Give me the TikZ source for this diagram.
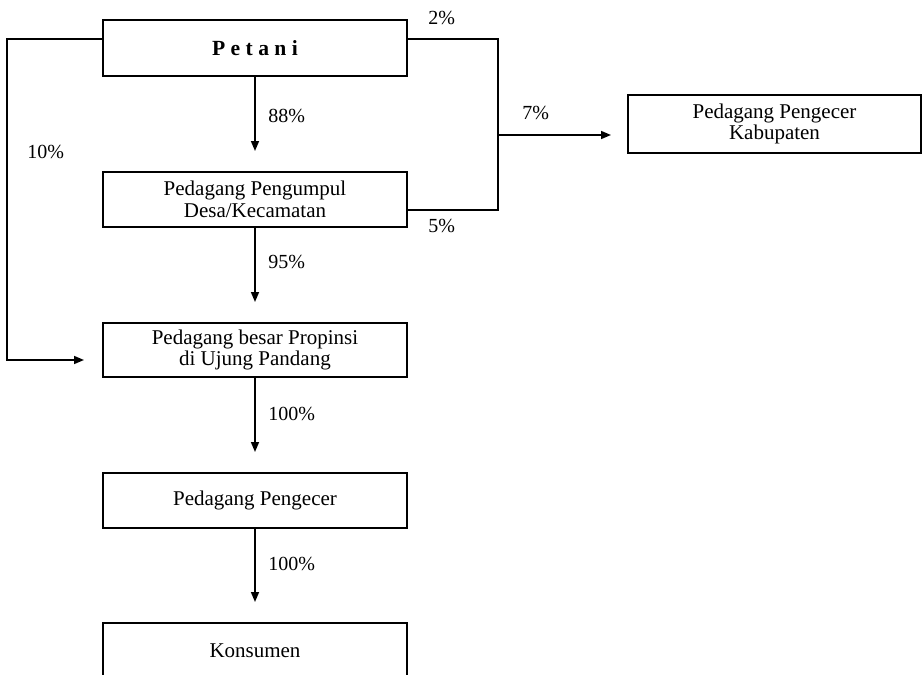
\documentclass[tikz,border=0pt]{standalone}
\usepackage{fontspec}
\setmainfont{Liberation Serif}
\usetikzlibrary{arrows.meta,shapes}

\begin{document}
\begin{tikzpicture}[x=0.5pt,y=-0.5pt]
\tikzstyle{every node}+=[inner sep=0pt]
\tikzstyle{box}=[draw=black,line width=1pt,minimum width=152pt,minimum height=27.5pt,align=center,font=\fontsize{10.5}{10.8}\selectfont]
\tikzstyle{pct}=[anchor=west,font=\fontsize{10}{12}\selectfont]
\tikzstyle{flow}=[black,line width=0.8pt]
\tikzstyle{tip}=[-{Triangle[length=5pt,width=4pt]}]
\useasboundingbox (0,0) rectangle (922,675);
\clip (0,0) rectangle (922,675);
\node [box,minimum height=28pt,font=\fontsize{10.8}{10.8}\selectfont\bfseries] (petani) at (255,48) {P e t a n i};
\node [box] (pengumpul) at (255,199.5) {Pedagang Pengumpul\\Desa/Kecamatan};
\node [box,minimum height=27pt] (besar) at (255,350) {Pedagang besar Propinsi\\di Ujung Pandang};
\node [box] (pengecer) at (255,500.5) {Pedagang Pengecer};
\node [box] (konsumen) at (255,650.5) {Konsumen};
\node [box,minimum width=146.5pt,minimum height=29pt] (kabupaten) at (774.5,124) {Pedagang Pengecer\\Kabupaten};
\coordinate (split) at (498,135);
\draw [flow,tip,shorten >=10pt] (petani) -- (pengumpul);
\draw [flow,tip,shorten >=10pt] (pengumpul) -- (besar);
\draw [flow,tip,shorten >=10pt] (besar) -- (pengecer);
\draw [flow,tip,shorten >=10pt] (pengecer) -- (konsumen);
\draw [flow,tip,shorten >=9pt] ([yshift=4.5pt]petani.west) -- ++(-95,0) |- ([yshift=-5pt]besar.west);
\draw [flow] ([yshift=4.5pt]petani.east) -| (split) |- ([yshift=-5.25pt]pengumpul.east);
\draw [flow,tip,shorten >=8pt] (split) -- (split -| kabupaten.west);
\node [pct] (p2) at (428,18) {2\%};
\node [pct] (p5) at (428,226) {5\%};
\node [pct] (p7) at (522,113) {7\%};
\node [pct] (p10) at (27,152) {10\%};
\node [pct] (p88) at (268,116) {88\%};
\node [pct] (p95) at (268,262) {95\%};
\node [pct] (p100a) at (268,414) {100\%};
\node [pct] (p100b) at (268,564) {100\%};
\end{tikzpicture}
\end{document}
